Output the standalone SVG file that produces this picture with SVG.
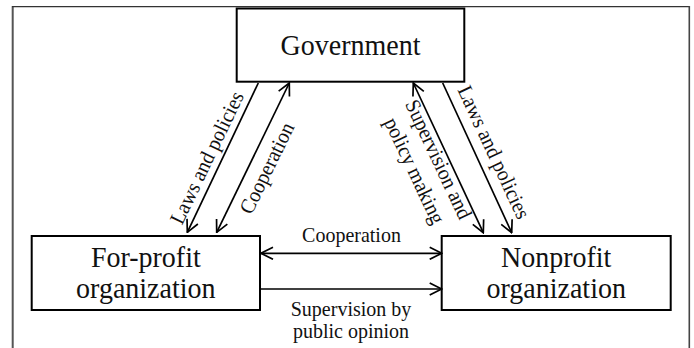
<svg xmlns="http://www.w3.org/2000/svg" width="694" height="348" viewBox="0 0 694 348">
<style>
.box{fill:#fff;stroke:#000;stroke-width:2}
.node{font-size:28px;fill:#111;text-anchor:middle}
.lbl{font-size:20px;fill:#111;text-anchor:middle}
.con{stroke:#000;stroke-width:1.7;fill:none}
</style>
<defs>
<marker id="ah" viewBox="0 0 14 14" refX="13" refY="7" markerWidth="14" markerHeight="14" markerUnits="userSpaceOnUse" orient="auto-start-reverse">
<path d="M1,1 L13,7 L1,13" fill="none" stroke="#000" stroke-width="1.7"/>
</marker>
</defs>
<rect width="694" height="348" fill="#fff"/>
<g id="frame">
<line x1="12.7" y1="6" x2="12.7" y2="348" stroke="#555" stroke-width="2"/>
<line x1="12" y1="6.7" x2="690" y2="6.7" stroke="#333" stroke-width="1.3"/>
<line x1="689.3" y1="6" x2="689.3" y2="348" stroke="#444" stroke-width="1.6"/>
</g>
<g font-family="Liberation Serif, Times New Roman, serif">
<g id="government">
<rect class="box" x="236.7" y="8.5" width="227.6" height="73.2"/>
<text class="node" transform="translate(350.5,55) scale(1,1.08)">Government</text>
</g>
<g id="forprofit">
<rect class="box" x="31.7" y="236" width="228.3" height="74"/>
<text class="node" transform="translate(145.8,266.7) scale(1,1.08)">For-profit</text>
<text class="node" transform="translate(145.8,298.3) scale(1,1.08)">organization</text>
</g>
<g id="nonprofit">
<rect class="box" x="441.7" y="236" width="229" height="74"/>
<text class="node" transform="translate(556.2,266.7) scale(1,1.08)">Nonprofit</text>
<text class="node" transform="translate(556.2,298.3) scale(1,1.08)">organization</text>
</g>
<g id="connectors">
<line class="con" x1="258.3" y1="83" x2="187.3" y2="232.3" marker-end="url(#ah)"/>
<line class="con" x1="289.3" y1="83" x2="216.7" y2="232.3" marker-start="url(#ah)" marker-end="url(#ah)"/>
<line class="con" x1="413.3" y1="83" x2="483.3" y2="232.7" marker-start="url(#ah)" marker-end="url(#ah)"/>
<line class="con" x1="442.7" y1="83" x2="511.7" y2="232.7" marker-end="url(#ah)"/>
<line class="con" x1="261" y1="253.3" x2="441.7" y2="253.3" marker-start="url(#ah)" marker-end="url(#ah)"/>
<line class="con" x1="261" y1="289" x2="441.7" y2="289" marker-end="url(#ah)"/>
</g>
<g id="labels">
<text class="lbl" transform="translate(207.5,158) rotate(-64.4) scale(1,1.06)" y="6">Laws and policies</text>
<text class="lbl" transform="translate(267.5,168.3) rotate(-64) scale(1,1.06)" y="6">Cooperation</text>
<g transform="translate(425.5,165.5) rotate(64.8) scale(1,1.06)">
<text class="lbl" y="-7">Supervision and</text>
<text class="lbl" y="18">policy making</text>
</g>
<text class="lbl" transform="translate(493.3,152.5) rotate(65.1) scale(1,1.06)" y="6">Laws and policies</text>
<text class="lbl" transform="translate(351.5,242) scale(1,1.06)">Cooperation</text>
<text class="lbl" x="351" y="315.5">Supervision by</text>
<text class="lbl" x="351" y="337.8">public opinion</text>
</g>
</g>
</svg>
